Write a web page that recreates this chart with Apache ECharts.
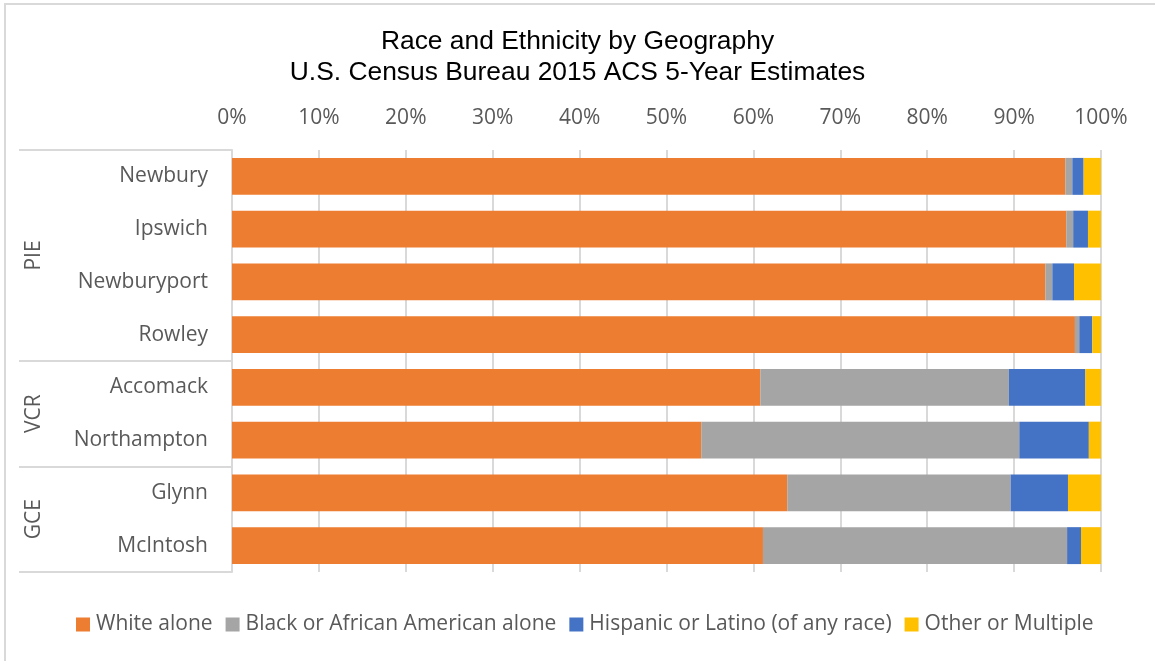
<!DOCTYPE html>
<html>
<head>
<meta charset="utf-8">
<script src="https://cdn.jsdelivr.net/npm/echarts@6/dist/echarts.min.js"></script>
<style>
  html, body { margin: 0; padding: 0; background: #fff; }
  #frame { position: absolute; left: 4px; top: 3px; width: 1300px; height: 800px; border: 2px solid #d9d9d9; box-sizing: border-box; }
  #chart { position: absolute; left: 0; top: 0; width: 1155px; height: 661px; }
</style>
</head>
<body>
<div id="frame"></div>
<div id="chart"></div>
<script>
const categories = ['Newbury', 'Ipswich', 'Newburyport', 'Rowley', 'Accomack', 'Northampton', 'Glynn', 'McIntosh'];
const groupNames = ['PIE', 'VCR', 'GCE'];
const groupSizes = [4, 2, 2];
const seriesNames = ['White alone', 'Black or African American alone', 'Hispanic or Latino (of any race)', 'Other or Multiple'];
const whiteAlone = [95.9, 96.0, 93.6, 97.0, 60.8, 54.0, 63.9, 61.1];
const blackAlone = [0.8, 0.8, 0.8, 0.5, 28.6, 36.6, 25.7, 35.0];
const hispanic = [1.3, 1.7, 2.5, 1.5, 8.8, 8.0, 6.6, 1.6];
const otherMultiple = [2.0, 1.5, 3.1, 1.0, 1.8, 1.4, 3.8, 2.3];
const xTicks = [0, 10, 20, 30, 40, 50, 60, 70, 80, 90, 100];

const colors = ['#ED7D31', '#A5A5A5', '#4472C4', '#FFC000'];
const seriesData = [whiteAlone, blackAlone, hispanic, otherMultiple];
const labelFont = '"Open Sans", "Noto Sans", sans-serif';
const textColor = '#595959';

const boundaries = [0];
const centers = [];
let acc = 0;
groupSizes.forEach(s => { centers.push(acc + s / 2); acc += s; boundaries.push(acc); });

const chart = echarts.init(document.getElementById('chart'), null, { renderer: 'canvas' });
chart.setOption({
  backgroundColor: 'transparent',
  animation: false,
  color: colors,
  title: {
    text: 'Race and Ethnicity by Geography\nU.S. Census Bureau 2015 ACS 5-Year Estimates',
    left: 'center',
    top: 21,
    textStyle: { fontFamily: '"Liberation Sans", Arial, sans-serif', fontSize: 26.4, fontWeight: 'normal', color: '#000', lineHeight: 31 }
  },
  legend: {
    bottom: 21,
    left: 71,
    itemWidth: 14,
    itemHeight: 14,
    itemGap: 13,
    icon: 'rect',
    textStyle: { fontFamily: labelFont, fontSize: 21, color: textColor, padding: [0, 0, 0, 1] },
    data: seriesNames
  },
  grid: { left: 232, right: 54, top: 150, bottom: 89, containLabel: false },
  xAxis: {
    type: 'value',
    position: 'top',
    min: xTicks[0],
    max: xTicks[xTicks.length - 1],
    interval: xTicks[1] - xTicks[0],
    axisLine: { show: false },
    axisTick: { show: false },
    axisLabel: { formatter: '{value}%', fontFamily: labelFont, fontSize: 21, color: textColor, margin: 21 },
    splitLine: { show: true, lineStyle: { color: '#D9D9D9', width: 2 } }
  },
  yAxis: [
    {
      type: 'category',
      inverse: true,
      data: categories,
      axisLine: { show: true, lineStyle: { color: '#D9D9D9', width: 2 } },
      axisTick: {
        show: true,
        length: 213,
        interval: (idx) => boundaries.indexOf(idx) >= 0,
        lineStyle: { color: '#D9D9D9', width: 2 }
      },
      axisLabel: { fontFamily: labelFont, fontSize: 21, color: textColor, margin: 24 }
    },
    {
      type: 'value',
      inverse: true,
      position: 'left',
      min: 0,
      max: categories.length,
      interval: 0.5,
      offset: 183,
      axisLine: { show: false },
      axisTick: { show: false },
      splitLine: { show: false },
      axisLabel: {
        rotate: 90,
        margin: 4,
        fontFamily: labelFont,
        fontSize: 21,
        color: textColor,
        showMinLabel: true,
        showMaxLabel: true,
        formatter: (v) => { const i = centers.indexOf(v); return i >= 0 ? groupNames[i] : ''; }
      }
    }
  ],
  series: seriesNames.map((name, i) => ({
    name: name,
    type: 'bar',
    stack: 'total',
    yAxisIndex: 0,
    barCategoryGap: '30%',
    data: seriesData[i],
    itemStyle: { color: colors[i] }
  }))
});
</script>
</body>
</html>
